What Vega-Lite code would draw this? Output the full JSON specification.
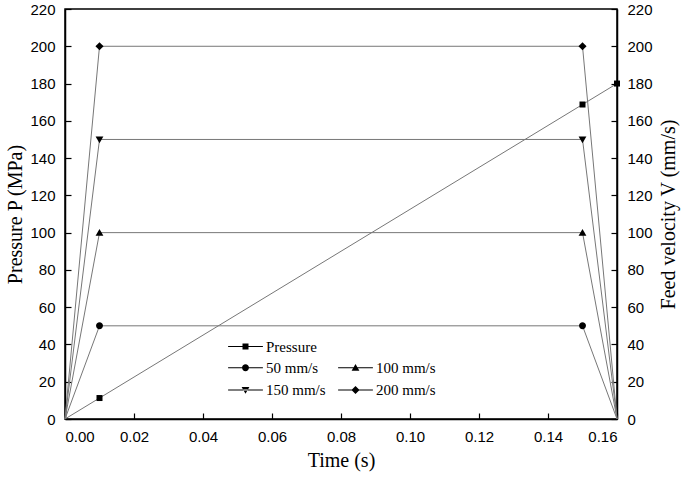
{
  "$schema": "https://vega.github.io/schema/vega-lite/v6.json",
  "width": 552,
  "height": 410,
  "autosize": {"type": "none"},
  "padding": {"left": 65, "top": 9, "right": 68, "bottom": 60},
  "background": "white",
  "config": {
    "view": {"stroke": "black", "strokeWidth": 1.5},
    "axis": {
      "domainColor": "black",
      "domainWidth": 1.5,
      "tickColor": "black",
      "tickWidth": 1.2,
      "tickSize": -6,
      "grid": false,
      "labelFont": "Liberation Sans",
      "labelFontSize": 15,
      "labelColor": "black",
      "labelPadding": 16,
      "titleFont": "Liberation Serif",
      "titleFontSize": 20,
      "titleFontWeight": "normal",
      "titleColor": "black"
    }
  },
  "data": {
    "values": [
      {"s": "Pressure", "t": 0, "v": 0},
      {"s": "Pressure", "t": 0.01, "v": 11.25},
      {"s": "Pressure", "t": 0.15, "v": 168.75},
      {"s": "Pressure", "t": 0.16, "v": 180},
      {"s": "50 mm/s", "t": 0, "v": 0},
      {"s": "50 mm/s", "t": 0.01, "v": 50},
      {"s": "50 mm/s", "t": 0.15, "v": 50},
      {"s": "50 mm/s", "t": 0.16, "v": 0},
      {"s": "100 mm/s", "t": 0, "v": 0},
      {"s": "100 mm/s", "t": 0.01, "v": 100},
      {"s": "100 mm/s", "t": 0.15, "v": 100},
      {"s": "100 mm/s", "t": 0.16, "v": 0},
      {"s": "150 mm/s", "t": 0, "v": 0},
      {"s": "150 mm/s", "t": 0.01, "v": 150},
      {"s": "150 mm/s", "t": 0.15, "v": 150},
      {"s": "150 mm/s", "t": 0.16, "v": 0},
      {"s": "200 mm/s", "t": 0, "v": 0},
      {"s": "200 mm/s", "t": 0.01, "v": 200},
      {"s": "200 mm/s", "t": 0.15, "v": 200},
      {"s": "200 mm/s", "t": 0.16, "v": 0}
    ]
  },
  "layer": [
    {
      "transform": [{"filter": "datum.s === 'Pressure'"}],
      "encoding": {
        "x": {"field": "t", "type": "quantitative", "scale": {"domain": [0, 0.16], "nice": false},
              "axis": {"values": [0, 0.02, 0.04, 0.06, 0.08, 0.1, 0.12, 0.14, 0.16], "format": ".2f", "title": "Time (s)", "titlePadding": 6}},
        "y": {"field": "v", "type": "quantitative", "scale": {"domain": [0, 220], "nice": false},
              "axis": {"orient": "left", "values": [0, 20, 40, 60, 80, 100, 120, 140, 160, 180, 200, 220], "title": "Pressure P (MPa)", "titlePadding": 4}}
      },
      "layer": [
        {"mark": {"type": "line", "color": "#777", "strokeWidth": 1}, "encoding": {}},
        {
          "transform": [{"filter": "datum.t > 0 && datum.v > 0"}],
          "mark": {"type": "point", "filled": true, "color": "black", "size": 36, "opacity": 1},
          "encoding": {
            "shape": {"field": "s", "type": "nominal",
              "scale": {"domain": ["Pressure"], "range": ["M-1,-1H1V1H-1Z"]},
              "legend": null}
          }
        },
        {
          "transform": [{"filter": "false"}],
          "mark": {"type": "point", "filled": true, "color": "black", "size": 36, "opacity": 1},
          "encoding": {
            "shape": {"field": "s", "type": "nominal",
              "scale": {"domain": ["Pressure"], "range": ["M-1,-1H1V1H-1Z M-5.8,-0.17H5.8V0.17H-5.8Z"]},
              "legend": {"orient": "none", "legendX": 173, "legendY": 330, "title": null, "padding": 0,
                         "labelFont": "Liberation Serif", "labelFontSize": 15, "labelColor": "black",
                         "symbolSize": 36, "labelOffset": 13, "symbolFillColor": "black", "symbolStrokeWidth": 0}}
          }
        }
      ],
      "resolve": {"scale": {"shape": "independent"}}
    },
    {
      "transform": [{"filter": "datum.s !== 'Pressure'"}],
      "encoding": {
        "x": {"field": "t", "type": "quantitative", "scale": {"domain": [0, 0.16], "nice": false}},
        "y": {"field": "v", "type": "quantitative", "scale": {"domain": [0, 220], "nice": false},
              "axis": {"orient": "right", "values": [0, 20, 40, 60, 80, 100, 120, 140, 160, 180, 200, 220], "title": "Feed velocity V (mm/s)", "titleAngle": -90, "titleBaseline": "top", "titlePadding": 6}}
      },
      "layer": [
        {"mark": {"type": "line", "color": "#777", "strokeWidth": 1}, "encoding": {"detail": {"field": "s"}}},
        {
          "transform": [{"filter": "datum.t > 0 && datum.v > 0"}],
          "mark": {"type": "point", "filled": true, "color": "black", "size": 36, "opacity": 1},
          "encoding": {
            "shape": {"field": "s", "type": "nominal", "sort": null,
              "scale": {"domain": ["50 mm/s", "100 mm/s", "150 mm/s", "200 mm/s"],
                        "range": ["M1.15,0A1.15,1.15,0,1,1,-1.15,0A1.15,1.15,0,1,1,1.15,0Z",
                                  "M0,-1.25L1.3,1H-1.3Z",
                                  "M0,1.25L1.3,-1H-1.3Z",
                                  "M0,-1.35L1.35,0L0,1.35L-1.35,0Z"]},
              "legend": null}
          }
        },
        {
          "transform": [{"filter": "false"}],
          "mark": {"type": "point", "filled": true, "color": "black", "size": 36, "opacity": 1},
          "encoding": {
            "shape": {"field": "s", "type": "nominal", "sort": null,
              "scale": {"domain": ["50 mm/s", "100 mm/s", "150 mm/s", "200 mm/s"],
                        "range": ["M1.15,0A1.15,1.15,0,1,1,-1.15,0A1.15,1.15,0,1,1,1.15,0Z M-5.8,-0.17H5.8V0.17H-5.8Z",
                                  "M0,-1.25L1.3,1H-1.3Z M-5.8,-0.17H5.8V0.17H-5.8Z",
                                  "M0,1.25L1.3,-1H-1.3Z M-5.8,-0.17H5.8V0.17H-5.8Z",
                                  "M0,-1.35L1.35,0L0,1.35L-1.35,0Z M-5.8,-0.17H5.8V0.17H-5.8Z"]},
              "legend": {"orient": "none", "direction": "horizontal", "legendX": 173, "legendY": 351, "title": null, "padding": 0,
                         "columns": 2, "columnPadding": 12, "rowPadding": 6.5,
                         "labelFont": "Liberation Serif", "labelFontSize": 15, "labelColor": "black",
                         "symbolSize": 36, "labelOffset": 13, "symbolFillColor": "black", "symbolStrokeWidth": 0}}
          }
        }
      ],
      "resolve": {"scale": {"shape": "independent"}}
    }
  ],
  "resolve": {"scale": {"y": "independent", "shape": "independent"}}
}
